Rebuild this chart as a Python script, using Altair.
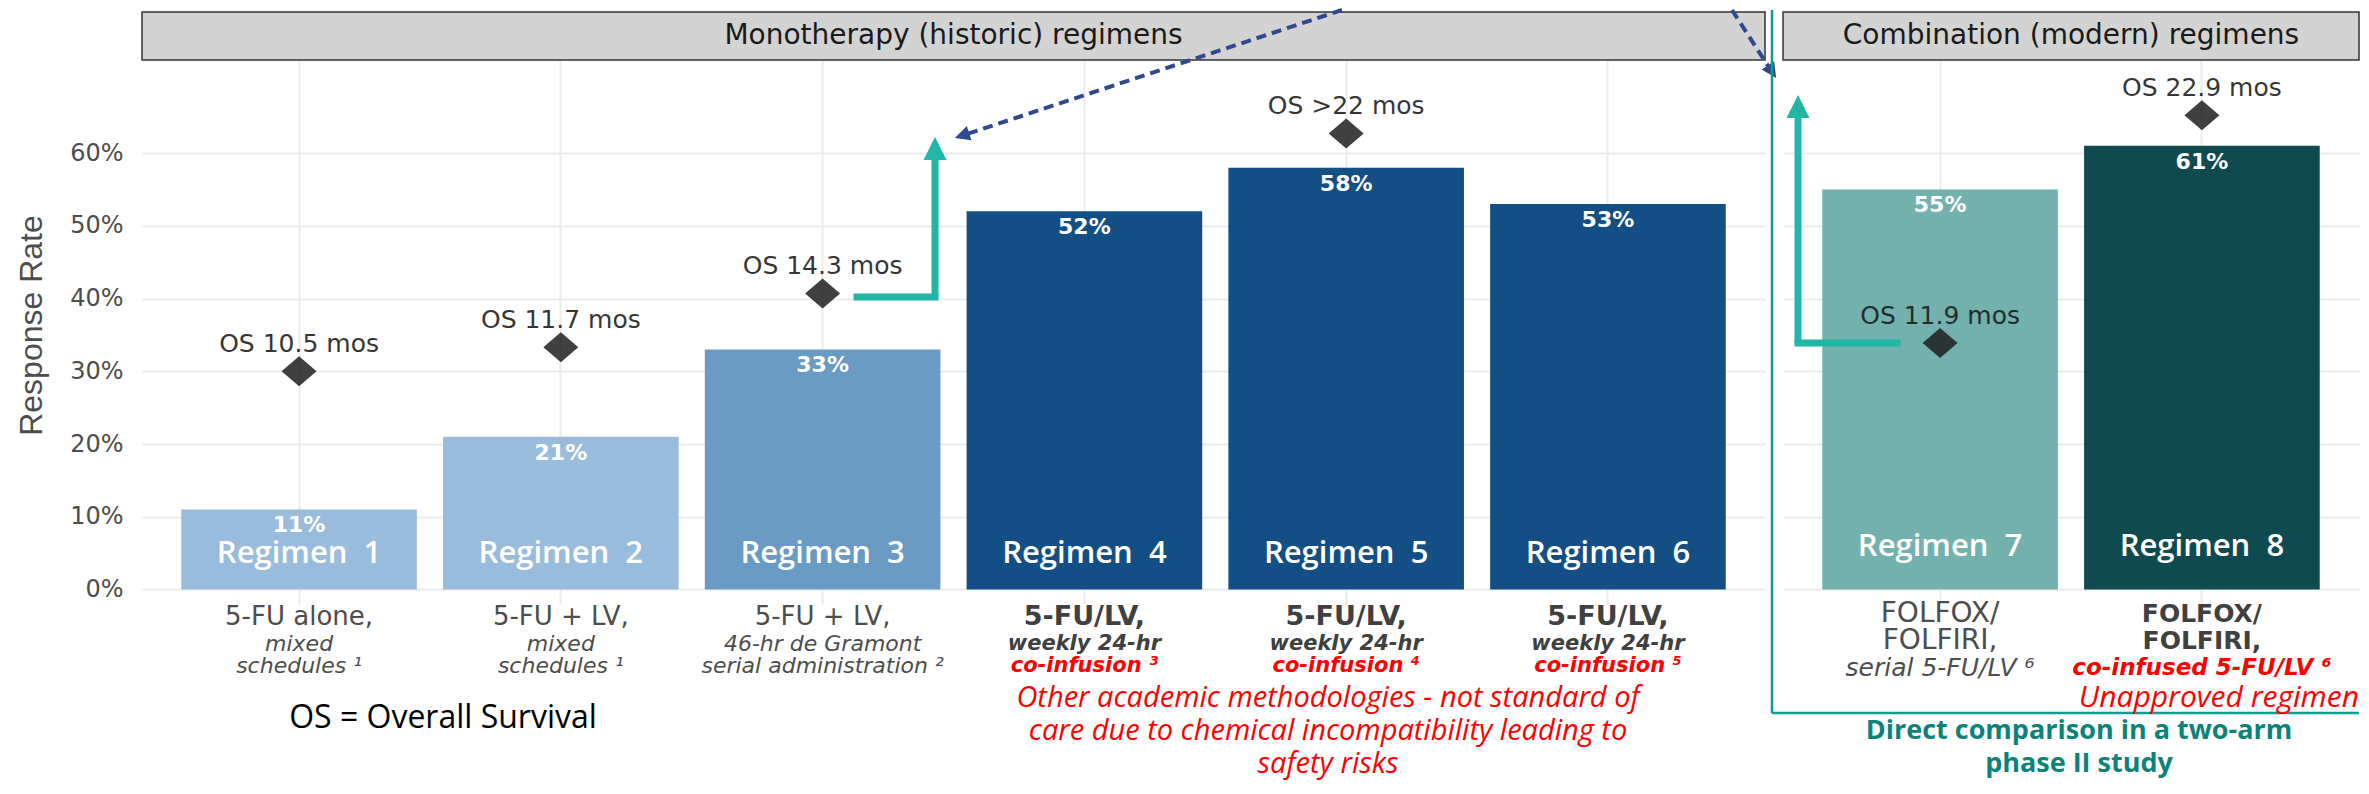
import altair as alt
import pandas as pd

# ---------------- data ----------------
regimens = ["Regimen 1", "Regimen 2", "Regimen 3", "Regimen 4",
            "Regimen 5", "Regimen 6", "Regimen 7", "Regimen 8"]
bar_text = ["Regimen\u00a0 1", "Regimen\u00a0 2", "Regimen\u00a0 3", "Regimen\u00a0 4",
            "Regimen\u00a0 5", "Regimen\u00a0 6", "Regimen\u00a0 7", "Regimen\u00a0 8"]
panels = ["Monotherapy (historic) regimens"] * 6 + ["Combination (modern) regimens"] * 2
panel_titles = ["Monotherapy (historic) regimens", "Combination (modern) regimens"]
response_rate = [0.11, 0.21, 0.33, 0.52, 0.58, 0.53, 0.55, 0.61]
os_text = ["OS 10.5 mos", "OS 11.7 mos", "OS 14.3 mos", "", "OS >22 mos", "", "OS 11.9 mos", "OS 22.9 mos"]
os_marker = [0.300, 0.333, 0.407, None, 0.627, None, 0.339, 0.652]
line1 = ["5-FU alone,", "5-FU + LV,", "5-FU + LV,", "5-FU/LV,", "5-FU/LV,", "5-FU/LV,", "FOLFOX/", "FOLFOX/"]
line2 = ["mixed", "mixed", "46-hr de Gramont", "weekly 24-hr", "weekly 24-hr", "weekly 24-hr", "FOLFIRI,", "FOLFIRI,"]
line3 = ["schedules \u00b9", "schedules \u00b9", "serial administration \u00b2", "co-infusion \u00b3",
         "co-infusion \u2074", "co-infusion \u2075", "serial 5-FU/LV \u2076", "co-infused 5-FU/LV \u2076"]
y_ticks = [0.0, 0.1, 0.2, 0.3, 0.4, 0.5, 0.6]
footnote = "OS = Overall Survival"
warning_lines = ["Other academic methodologies - not standard of",
                 "care due to chemical incompatibility leading to",
                 "safety risks"]
unapproved = "Unapproved regimen"
comparison_lines = ["Direct comparison in a two-arm", "phase II study"]

# ---------------- styles ----------------
bar_colors = ["#9abcdc", "#9abcdc", "#699bc4", "#134f85", "#134f85", "#134f85", "#72b1ae", "#0e4a50"]
GRAY = "#4d4d4d"
DARK = "#404040"
RED = "#ff0000"
TEAL = "#21b6a6"
BOXTEAL = "#0e9b90"
NAVY = "#2e4a8e"
GRID = "#ebebeb"
SANS = "DejaVu Sans"
SLIDE = "Open Sans"
# (weight, style, color, size) per regimen for each label line
line1_style = [("normal", "normal", GRAY, 26)] * 3 + [("bold", "normal", DARK, 27)] * 3 + \
              [("normal", "normal", GRAY, 28), ("bold", "normal", DARK, 25)]
line2_style = [("normal", "italic", GRAY, 22)] * 3 + [("bold", "italic", DARK, 21)] * 3 + \
              [("normal", "normal", GRAY, 28), ("bold", "normal", DARK, 25)]
line3_style = [("normal", "italic", GRAY, 22)] * 3 + [("bold", "italic", RED, 21)] * 3 + \
              [("normal", "italic", GRAY, 25), ("bold", "italic", RED, 23)]

DIAMOND = "M -1 0 L 0 -0.857 L 1 0 L 0 0.857 Z"
ARROW = "M 0 -1 L 1 1 L -1 1 Z"
H = 544

df = pd.DataFrame({
    "regimen": regimens, "panel": panels, "bar_text": bar_text, "rate": response_rate,
    "os_text": os_text, "os_y": os_marker, "line1": line1, "line2": line2, "line3": line3,
})
one = pd.DataFrame({"k": [0]})
yscale = alt.Scale(domain=[-0.02, 0.728], nice=False, zero=False)


def rule(x, x2, y, y2, color, width, dash=None, cap="butt"):
    kw = dict(color=color, strokeWidth=width, strokeCap=cap)
    if dash:
        kw["strokeDash"] = dash
    return alt.Chart(one).mark_rule(**kw).encode(
        x=alt.value(x), x2=alt.value(x2), y=alt.value(y), y2=alt.value(y2))


def head(x, y, size, angle, color):
    return alt.Chart(one).mark_point(shape=ARROW, size=size, angle=angle, filled=True,
                                     fill=color, opacity=1, strokeWidth=0).encode(
        x=alt.value(x), y=alt.value(y))


def label(text, x, y, font, size, color, weight="normal", style="normal", align="center"):
    return alt.Chart(one).mark_text(font=font, fontSize=size, color=color, fontWeight=weight,
                                    fontStyle=style, align=align, baseline="middle").encode(
        x=alt.value(x), y=alt.value(y), text=alt.value(text))


def panel_chart(idx, width, show_y, row_y, reg_y, extras):
    name = panel_titles[idx]
    sub = df[df.panel == name].reset_index(drop=True)
    cats = list(sub.regimen)
    x = alt.X("regimen:N", scale=alt.Scale(domain=cats, paddingInner=0.1, paddingOuter=0.15),
              axis=alt.Axis(title=None, labels=False, ticks=False, domain=False, grid=True,
                            gridColor=GRID, gridWidth=2, bandPosition=0.5))
    if show_y:
        yaxis = alt.Axis(values=y_ticks, format=".0%", title="Response Rate", grid=True,
                         gridColor=GRID, gridWidth=2, ticks=False, tickSize=0, domain=False,
                         labelFont=SANS, labelFontSize=24, labelColor=GRAY, labelPadding=19,
                         titleFont="Liberation Sans", titleFontSize=32, titleFontWeight="normal",
                         titleColor=GRAY, titleX=-111, titleY=265, titleAngle=270,
                         titleBaseline="middle", titleAlign="center")
    else:
        yaxis = alt.Axis(values=y_ticks, title=None, labels=False, ticks=False, tickSize=0,
                         domain=False, grid=True, gridColor=GRID, gridWidth=2)

    def Y(f):
        return alt.Y(f + ":Q", scale=yscale, axis=yaxis)

    base = alt.Chart(sub)
    layers = [
        alt.Chart(one).mark_rect(fill="#d3d3d3", stroke="#333333", strokeWidth=1.5).encode(
            x=alt.value(0), x2=alt.value(width), y=alt.value(-48), y2=alt.value(0)),
        label(name, width / 2, -24, SANS, 28, "#1a1a1a"),
        base.mark_bar().encode(
            x=x, y=Y("rate"), y2=alt.datum(0),
            color=alt.Color("regimen:N", scale=alt.Scale(domain=regimens, range=bar_colors), legend=None)),
        base.mark_text(font=SANS, fontSize=22, fontWeight="bold", color="white", dy=16,
                       baseline="middle").encode(x=x, y=Y("rate"), text=alt.Text("rate:Q", format=".0%")),
        base.mark_text(font=SLIDE, fontSize=31, fontWeight=600, color="white", baseline="middle").encode(
            x=x, y=alt.value(reg_y), text="bar_text:N"),
        base.transform_filter("isValid(datum.os_y)").mark_point(
            shape=DIAMOND, size=1225, filled=True, fill="#1f1f1f", opacity=0.85, strokeWidth=0).encode(
            x=x, y=Y("os_y")),
        base.transform_filter("isValid(datum.os_y)").mark_text(
            font=SANS, fontSize=25, color="#1a1a1a", opacity=0.88, dy=-27, baseline="middle").encode(
            x=x, y=Y("os_y"), text="os_text:N"),
    ]
    # category label lines
    for col, styles, yy in (("line1", line1_style, row_y[0]), ("line2", line2_style, row_y[1]),
                            ("line3", line3_style, row_y[2])):
        st = [styles[regimens.index(r)] for r in cats]
        for s in sorted(set(st)):
            keep = [r for r, t in zip(cats, st) if t == s]
            part = sub[sub.regimen.isin(keep)]
            layers.append(alt.Chart(part).mark_text(
                font=SANS, fontWeight=s[0], fontStyle=s[1], color=s[2], fontSize=s[3],
                baseline="middle").encode(x=x, y=alt.value(yy), text=col + ":N"))
    layers += extras
    return alt.layer(*layers).properties(width=width, height=H)


left_extras = [
    label(footnote, 301, 658, SLIDE, 32, "#000000"),
    label(warning_lines[0], 1186, 638, SLIDE, 29, RED, style="italic"),
    label(warning_lines[1], 1186, 671, SLIDE, 29, RED, style="italic"),
    label(warning_lines[2], 1186, 704, SLIDE, 29, RED, style="italic"),
    # teal L-arrow from regimen 3 marker
    rule(715, 793, 237, 237, TEAL, 7, cap="square"),
    rule(793, 793, 237, 96, TEAL, 7),
    head(793, 88.5, 529, 0, TEAL),
    # dashed navy arrows coming from above
    rule(1200, 822, -50, 75, NAVY, 4, dash=[10, 6]),
    head(820, 75.6, 225, 251.7, NAVY),
    rule(1590, 1628, -50, 9, NAVY, 4, dash=[10, 6]),
    head(1630, 11.7, 225, 146.8, NAVY),
]

right_extras = [
    rule(-11, -11, -50, 653, BOXTEAL, 2.5),
    rule(-11, 576, 653, 653, BOXTEAL, 2.5),
    rule(114, 15, 283, 283, TEAL, 7, cap="square"),
    rule(15, 15, 283, 55, TEAL, 7),
    head(15, 46.5, 529, 0, TEAL),
    label(unapproved, 576, 638, SLIDE, 30, RED, style="italic", align="right"),
    label(comparison_lines[0], 296, 671, SLIDE, 27, "#0b8379", weight="bold"),
    label(comparison_lines[1], 296, 704, SLIDE, 27, "#0b8379", weight="bold"),
]

left = panel_chart(0, 1623, True, (557, 584, 606), 494, left_extras)
right = panel_chart(1, 576, False, (554, 581, 608), 487, right_extras)

chart = alt.hconcat(left, right, spacing=18, bounds="flush").properties(
    padding={"left": 7, "top": 0, "right": 0, "bottom": 6},
    background="white",
).configure_view(stroke=None)

chart.save("out.html", embed_options={"renderer": "svg", "actions": False})
